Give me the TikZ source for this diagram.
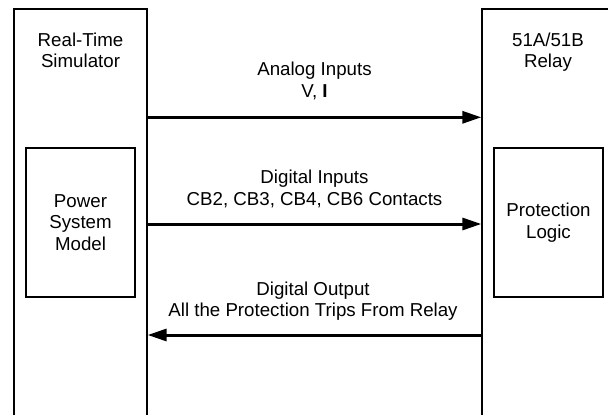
\documentclass[tikz,border=0pt]{standalone}
\usepackage{fontspec}
\setmainfont{Liberation Sans}
\usetikzlibrary{arrows.meta}
\begin{document}
\begin{tikzpicture}[x=1pt,y=-1pt,
  box/.style={draw=black,line width=1.3pt,rectangle,inner sep=0pt,fill=none},
  lbl/.style={align=center,inner sep=0pt,font=\fontsize{18.7}{21.5}\selectfont},
  sig/.style={line width=3pt,-{Triangle[length=19pt,width=12pt]}}]
\useasboundingbox (0,0) rectangle (608,415);
\clip (0,0) rectangle (608,415);
\fill[white] (0,0) rectangle (608,415);
% outer boxes (run past the bottom edge)
\node[box,minimum width=133pt,minimum height=431pt] (sim) at (80.5,224.5) {};
\node[box,minimum width=138pt,minimum height=431pt] (relay) at (551,224.5) {};
% inner boxes
\node[box,lbl,minimum width=109pt,minimum height=149pt] (psm) at (80.5,222.5) {Power\\System\\Model};
\node[box,lbl,minimum width=109pt,minimum height=149pt] (plogic) at (548.5,222.5) {Protection\\Logic};
% titles
\node[lbl] (simlbl) at (80.5,50.5) {Real-Time\\Simulator};
\node[lbl] (relaylbl) at (548,52) {51A/51B\\Relay};
% signals
\coordinate (ya) at (0,117.3);
\coordinate (yd) at (0,224);
\coordinate (yo) at (0,335);
\draw[sig] (sim.east |- ya) -- (relay.west |- ya);
\draw[sig] (sim.east |- yd) -- (relay.west |- yd);
\draw[sig] (relay.west |- yo) -- (sim.east |- yo);
\node[lbl] (analoglbl) at (314.5,81) {Analog Inputs\\V, \textbf{I}};
\node[lbl] (diglbl) at (314.5,189) {Digital Inputs\\CB2, CB3, CB4, CB6 Contacts};
\node[lbl] (outlbl) at (313,301) {Digital Output\\All the Protection Trips From Relay};
\end{tikzpicture}
\end{document}
